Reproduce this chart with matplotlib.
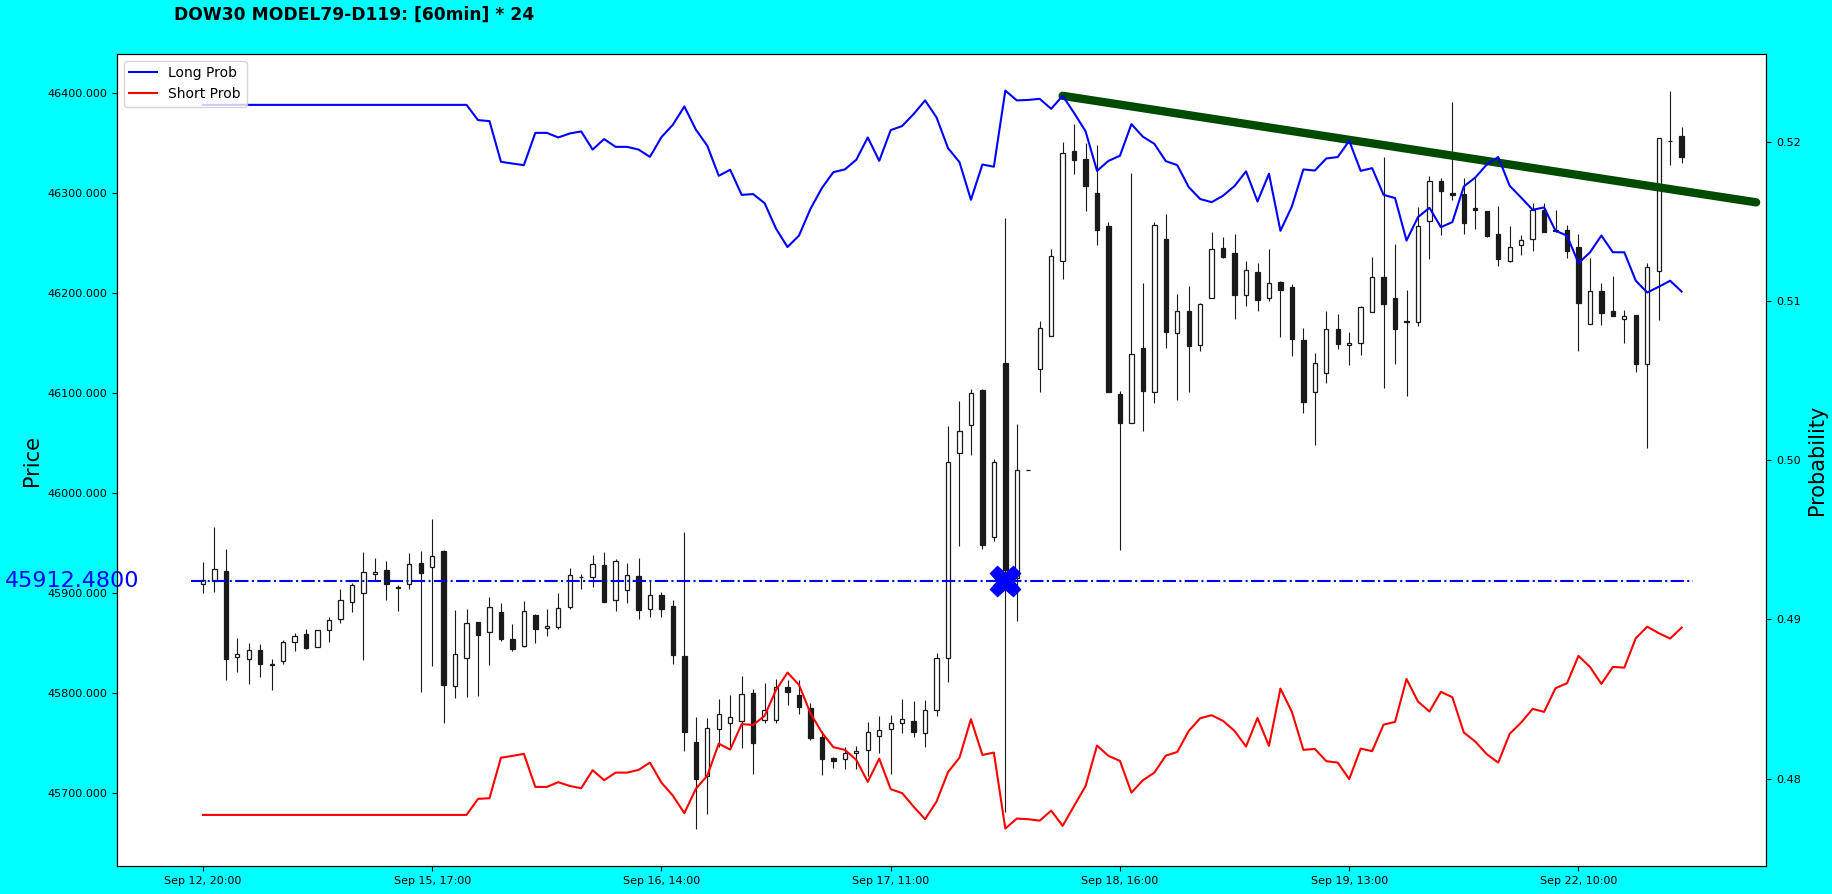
import numpy as np
import matplotlib.pyplot as plt

title = "DOW30 MODEL79-D119: [60min] * 24"
tick_bars = [0, 20, 40, 60, 80, 100, 120]
tick_labels = ["Sep 12, 20:00", "Sep 15, 17:00", "Sep 16, 14:00", "Sep 17, 11:00",
               "Sep 18, 16:00", "Sep 19, 13:00", "Sep 22, 10:00"]

# 60min bars
opens = [45909.2, 45912.2, 45922.5, 45836.2, 45834.2, 45843.2, 45829.5, 45832.2, 45851.2, 45859.2,
         45846.2, 45863.2, 45874.2, 45891.2, 45900.2, 45919.2, 45923.2, 45906.0, 45909.2, 45930.5,
         45926.2, 45942.5, 45807.8, 45835.2, 45871.2, 45861.2, 45881.2, 45854.5, 45847.2, 45878.2,
         45865.2, 45866.8, 45886.2, 45916.8, 45916.2, 45928.2, 45893.2, 45903.2, 45917.2, 45884.2,
         45898.2, 45887.5, 45837.5, 45751.5, 45717.2, 45764.2, 45770.2, 45772.8, 45800.2, 45773.2,
         45773.2, 45806.2, 45798.2, 45785.2, 45756.2, 45735.2, 45734.8, 45740.2, 45743.2, 45757.2,
         45764.2, 45770.2, 45772.2, 45760.2, 45783.2, 45835.4, 46040.6, 46067.9, 46103.4, 45956.8,
         46130.7, 45915.0, 46023.0, 46123.9, 46157.5, 46232.1, 46342.7, 46333.9, 46300.8, 46267.3,
         46098.9, 46070.4, 46145.7, 46101.0, 46254.4, 46160.4, 46182.4, 46148.2, 46195.7, 46245.0,
         46240.0, 46197.9, 46221.2, 46195.2, 46211.5, 46206.2, 46153.2, 46101.2, 46120.2, 46164.2,
         46148.2, 46150.2, 46181.2, 46216.2, 46195.2, 46172.5, 46171.2, 46272.2, 46312.2, 46300.2,
         46299.2, 46285.2, 46282.2, 46259.2, 46232.2, 46248.2, 46254.2, 46283.2, 46263.0, 46263.2,
         46246.2, 46169.8, 46202.5, 46182.5, 46174.2, 46178.2, 46129.2, 46222.2, 46352.8, 46357.2]
highs = [45931.2, 45966.2, 45944.2, 45855.2, 45850.2, 45849.2, 45834.2, 45853.2, 45860.2, 45864.2,
         45863.5, 45876.2, 45904.2, 45910.8, 45941.2, 45935.2, 45932.2, 45908.5, 45940.2, 45942.8,
         45974.2, 45943.5, 45883.2, 45884.2, 45871.5, 45896.2, 45890.5, 45869.2, 45892.2, 45879.0,
         45884.2, 45900.2, 45925.2, 45919.2, 45938.2, 45941.2, 45934.2, 45930.8, 45935.2, 45913.5,
         45901.2, 45893.2, 45961.2, 45776.8, 45775.2, 45794.2, 45798.2, 45817.2, 45804.8, 45810.2,
         45814.2, 45813.5, 45813.2, 45790.8, 45762.8, 45736.8, 45746.2, 45747.5, 45771.2, 45777.2,
         45778.5, 45794.2, 45792.2, 45793.2, 45840.2, 46066.9, 46092.7, 46104.4, 46104.0, 46034.2,
         46275.5, 46069.3, 46023.0, 46172.2, 46244.3, 46351.0, 46369.0, 46350.8, 46348.7, 46271.3,
         46102.8, 46320.2, 46210.5, 46271.3, 46279.2, 46199.3, 46206.9, 46190.7, 46260.9, 46256.2,
         46259.8, 46232.1, 46230.2, 46244.2, 46212.2, 46209.2, 46165.2, 46140.8, 46182.2, 46179.8,
         46161.2, 46187.5, 46236.2, 46336.8, 46249.2, 46203.8, 46286.8, 46317.8, 46315.2, 46391.2,
         46315.2, 46315.2, 46282.5, 46287.2, 46267.2, 46258.8, 46290.2, 46290.2, 46283.2, 46268.2,
         46259.2, 46235.8, 46210.2, 46217.2, 46183.5, 46178.5, 46230.2, 46355.5, 46402.2, 46366.2]
lows = [45900.2, 45901.2, 45813.2, 45821.8, 45809.2, 45816.2, 45803.2, 45829.2, 45842.2, 45844.8,
        45846.0, 45851.2, 45870.8, 45881.2, 45833.2, 45913.5, 45893.5, 45882.5, 45904.2, 45801.2,
        45827.5, 45770.2, 45795.2, 45796.2, 45797.2, 45828.2, 45852.2, 45842.2, 45846.0, 45850.8,
        45857.8, 45864.2, 45884.2, 45904.2, 45906.2, 45891.2, 45882.5, 45890.5, 45874.2, 45876.2,
        45876.2, 45829.5, 45742.2, 45664.2, 45679.2, 45746.8, 45746.8, 45745.2, 45719.2, 45770.8,
        45770.2, 45788.5, 45779.5, 45753.5, 45718.2, 45725.2, 45724.2, 45724.2, 45717.8, 45740.2,
        45719.2, 45760.2, 45756.8, 45746.2, 45777.8, 45811.5, 45947.5, 46038.6, 45944.1, 45952.9,
        45681.9, 45872.0, 46023.0, 46101.0, 46157.0, 46214.1, 46319.3, 46282.5, 46248.3, 46101.0,
        45943.7, 46070.0, 46062.5, 46090.2, 46145.7, 46093.8, 46101.7, 46142.4, 46195.0, 46235.6,
        46174.5, 46187.1, 46182.5, 46192.5, 46156.2, 46137.5, 46080.2, 46048.2, 46110.2, 46144.2,
        46128.2, 46138.2, 46181.0, 46105.2, 46129.5, 46097.5, 46167.5, 46234.2, 46258.2, 46293.2,
        46259.2, 46264.2, 46256.8, 46227.2, 46231.8, 46238.2, 46242.2, 46261.5, 46261.8, 46235.2,
        46142.8, 46169.5, 46168.2, 46177.5, 46150.8, 46121.8, 46045.2, 46173.5, 46328.2, 46330.8]
closes = [45913.5, 45924.2, 45834.8, 45839.2, 45843.2, 45829.8, 45828.0, 45851.2, 45857.2, 45845.8,
          45863.2, 45873.2, 45893.2, 45908.2, 45921.2, 45921.2, 45909.2, 45905.0, 45929.2, 45920.8,
          45937.2, 45808.8, 45839.2, 45870.2, 45858.8, 45886.2, 45854.8, 45844.8, 45882.2, 45864.8,
          45867.2, 45885.2, 45918.2, 45916.2, 45929.2, 45891.8, 45932.2, 45918.2, 45883.8, 45898.2,
          45884.8, 45838.8, 45761.8, 45714.8, 45765.2, 45779.2, 45776.2, 45799.2, 45750.2, 45783.2,
          45806.2, 45801.8, 45786.8, 45755.8, 45734.8, 45732.8, 45740.2, 45742.5, 45761.2, 45763.2,
          45770.2, 45774.2, 45761.8, 45783.2, 45835.2, 46031.8, 46062.5, 46100.5, 45948.9, 46031.3,
          45923.6, 46023.5, 46023.0, 46165.8, 46237.5, 46340.8, 46333.0, 46307.3, 46263.7, 46101.7,
          46070.4, 46139.2, 46102.5, 46268.4, 46161.1, 46182.4, 46147.5, 46189.6, 46243.9, 46236.7,
          46198.2, 46223.8, 46193.8, 46210.2, 46203.2, 46154.2, 46091.2, 46130.2, 46164.2, 46149.2,
          46150.2, 46186.2, 46216.2, 46189.8, 46164.8, 46171.2, 46267.2, 46312.2, 46302.8, 46298.8,
          46270.8, 46283.2, 46257.8, 46234.8, 46246.8, 46253.8, 46283.2, 46261.8, 46262.0, 46242.8,
          46190.8, 46202.5, 46180.8, 46177.8, 46177.2, 46129.8, 46226.8, 46355.2, 46352.2, 46336.8]

long_prob = [0.52236, 0.52236, 0.52236, 0.52236, 0.52236, 0.52236, 0.52236, 0.52236, 0.52236, 0.52236,
             0.52236, 0.52236, 0.52236, 0.52236, 0.52236, 0.52236, 0.52236, 0.52236, 0.52236, 0.52236,
             0.52236, 0.52236, 0.52236, 0.52236, 0.52140, 0.52134, 0.51878, 0.51867, 0.51857, 0.52060,
             0.52060, 0.52031, 0.52056, 0.52069, 0.51955, 0.52021, 0.51972, 0.51972, 0.51955, 0.51909,
             0.52033, 0.52111, 0.52226, 0.52081, 0.51979, 0.51790, 0.51828, 0.51670, 0.51675, 0.51618,
             0.51457, 0.51342, 0.51414, 0.51582, 0.51713, 0.51813, 0.51830, 0.51891, 0.52031, 0.51884,
             0.52077, 0.52103, 0.52178, 0.52264, 0.52157, 0.51964, 0.51876, 0.51639, 0.51861, 0.51847,
             0.52326, 0.52264, 0.52267, 0.52274, 0.52211, 0.52293, 0.52185, 0.52070, 0.51821, 0.51884,
             0.51916, 0.52115, 0.52036, 0.51991, 0.51882, 0.51857, 0.51719, 0.51644, 0.51624, 0.51665,
             0.51726, 0.51818, 0.51628, 0.51803, 0.51444, 0.51597, 0.51830, 0.51823, 0.51899, 0.51908,
             0.52010, 0.51821, 0.51838, 0.51670, 0.51650, 0.51383, 0.51530, 0.51589, 0.51467, 0.51499,
             0.51723, 0.51779, 0.51861, 0.51908, 0.51727, 0.51653, 0.51576, 0.51591, 0.51444, 0.51414,
             0.51241, 0.51308, 0.51414, 0.51309, 0.51309, 0.51130, 0.51056, 0.51092, 0.51130, 0.51062]
short_prob = [0.47771, 0.47771, 0.47771, 0.47771, 0.47771, 0.47771, 0.47771, 0.47771, 0.47771, 0.47771,
              0.47771, 0.47771, 0.47771, 0.47771, 0.47771, 0.47771, 0.47771, 0.47771, 0.47771, 0.47771,
              0.47771, 0.47771, 0.47771, 0.47771, 0.47872, 0.47876, 0.48131, 0.48142, 0.48155, 0.47947,
              0.47947, 0.47977, 0.47953, 0.47939, 0.48052, 0.47989, 0.48037, 0.48037, 0.48054, 0.48100,
              0.47974, 0.47892, 0.47782, 0.47935, 0.48018, 0.48219, 0.48182, 0.48342, 0.48337, 0.48394,
              0.48557, 0.48666, 0.48589, 0.48411, 0.48289, 0.48197, 0.48180, 0.48117, 0.47979, 0.48125,
              0.47933, 0.47908, 0.47823, 0.47744, 0.47855, 0.48040, 0.48131, 0.48373, 0.48148, 0.48163,
              0.47685, 0.47748, 0.47744, 0.47735, 0.47798, 0.47702, 0.47828, 0.47952, 0.48207, 0.48142,
              0.48111, 0.47911, 0.47989, 0.48037, 0.48144, 0.48167, 0.48299, 0.48379, 0.48398, 0.48362,
              0.48299, 0.48201, 0.48381, 0.48205, 0.48565, 0.48419, 0.48180, 0.48186, 0.48109, 0.48100,
              0.47996, 0.48188, 0.48172, 0.48339, 0.48356, 0.48626, 0.48484, 0.48421, 0.48545, 0.48511,
              0.48289, 0.48232, 0.48153, 0.48100, 0.48281, 0.48352, 0.48438, 0.48419, 0.48568, 0.48599,
              0.48771, 0.48702, 0.48595, 0.48702, 0.48697, 0.48882, 0.48955, 0.48914, 0.48880, 0.48949]

entry_bar = 70
entry_price = 45912.48
trend_bars = [75, 135.5]
trend_prob = [0.52293, 0.51623]

o = np.array(opens)
h = np.array(highs)
l = np.array(lows)
c = np.array(closes)
x = np.arange(len(o))
up = c >= o

fig = plt.figure(figsize=(18.33, 8.94), dpi=100, facecolor='cyan')
fig.text(0.095, 0.984, title, fontsize=12.3, fontweight='bold', va='center', ha='left')

ax = fig.add_axes([0.0638, 0.031, 0.8999, 0.9088])
ax.vlines(x, l, h, color='#1a1a1a', linewidth=0.8, zorder=1)
ax.bar(x[up], c[up] - o[up], bottom=o[up], width=0.38, color='white',
       edgecolor='#1a1a1a', linewidth=0.9, zorder=2)
ax.bar(x[~up], o[~up] - c[~up], bottom=c[~up], width=0.38, color='#1a1a1a',
       edgecolor='#1a1a1a', linewidth=0.9, zorder=2)

ax.hlines(entry_price, x[0] - 1, x[-1] + 1, colors='blue', linestyles='-.', linewidth=1.5, zorder=3)
ax.plot(entry_bar, entry_price, marker='X', color='blue', markersize=22, linestyle='none', zorder=4)
ax.text(-0.068, entry_price, '%.4f' % entry_price, transform=ax.get_yaxis_transform(),
        color='blue', fontsize=16, va='center', ha='left')

ax.set_xlim(-7.5, 136.4)
ax.set_ylim(45627.2, 46439.5)
ax.set_yticks(np.arange(45700, 46401, 100))
ax.yaxis.set_major_formatter(plt.FormatStrFormatter('%.3f'))
ax.set_xticks(tick_bars)
ax.set_xticklabels(tick_labels)
ax.tick_params(labelsize=8)
ax.set_ylabel('Price', fontsize=15)

ax2 = ax.twinx()
ax2.plot(trend_bars, trend_prob, color='#004b00', linewidth=6, solid_capstyle='round')
ax2.plot(x, long_prob, color='blue', linewidth=1.5, label='Long Prob')
ax2.plot(x, short_prob, color='red', linewidth=1.5, label='Short Prob')
ax2.set_ylim(0.47448, 0.52557)
ax2.set_yticks([0.48, 0.49, 0.50, 0.51, 0.52])
ax2.yaxis.set_major_formatter(plt.FormatStrFormatter('%.2f'))
ax2.tick_params(labelsize=8)
ax2.set_ylabel('Probability', fontsize=15)
ax2.legend(loc='upper left')

plt.savefig('out.png', dpi=100, facecolor=fig.get_facecolor())
